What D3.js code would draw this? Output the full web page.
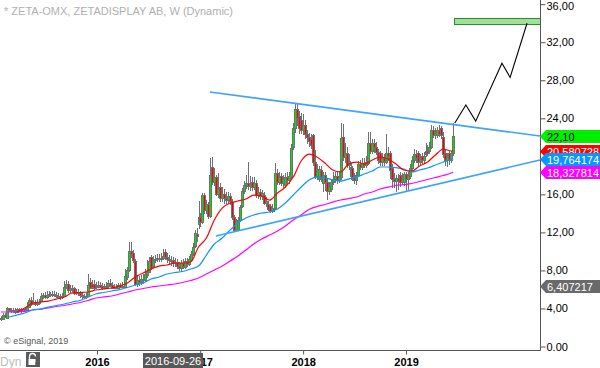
<!DOCTYPE html>
<html><head><meta charset="utf-8">
<script src="https://cdn.jsdelivr.net/npm/d3@7"></script>
<style>body{margin:0;background:#fff}svg{display:block}</style>
</head><body>
<svg id="c" width="600" height="368"></svg>
<script>
// ---------- DATA ----------
const title = "* ZETA-OMX, ZETADISPLAY AB, W (Dynamic)";
const firstWeek = "2015-01-26";
const opens = [3.0,2.9,3.3,3.0,4.0,3.8,3.8,3.7,3.6,3.9,3.8,3.7,3.9,3.8,4.2,4.9,4.5,4.7,4.5,4.6,
4.8,5.3,5.4,5.2,5.4,5.5,5.4,5.5,5.4,5.3,5.3,5.2,5.3,6.3,6.6,5.9,6.2,6.1,5.6,5.7,
5.6,5.4,5.3,5.2,5.3,6.8,6.6,6.6,6.3,6.4,6.5,6.4,6.1,6.3,6.4,6.7,6.5,6.2,6.3,6.2,
6.5,6.3,6.4,6.3,7.3,8.0,10.0,9.8,9.0,6.6,7.0,6.8,7.1,7.0,7.5,7.8,9.4,8.5,9.1,9.2,
9.3,9.2,9.3,9.9,9.4,9.2,9.1,9.1,8.8,8.9,8.5,8.3,8.8,8.4,9.0,8.7,9.1,9.7,10.6,11.8,
12.9,13.6,13.1,15.9,14.4,15.0,13.7,18.9,17.3,17.8,16.0,16.8,15.6,16.0,15.6,15.4,15.8,15.2,13.6,12.3,
12.4,13.3,14.8,16.4,17.0,17.2,16.9,17.3,16.8,17.2,15.9,16.2,15.8,15.9,15.1,15.0,14.8,14.3,14.6,14.6,
18.2,17.3,17.9,17.2,17.0,17.8,17.5,17.8,21.0,23.0,25.0,24.2,23.8,22.8,23.3,22.3,22.0,21.8,22.2,19.4,
17.9,17.6,18.6,17.2,18.0,17.3,16.4,16.6,17.3,17.6,17.9,17.5,17.8,22.0,19.9,20.4,19.1,18.9,18.8,17.8,
17.5,18.0,19.2,18.9,19.3,19.1,19.3,21.4,20.6,21.4,21.0,20.5,20.3,19.4,19.8,19.4,20.4,20.4,18.8,17.6,
17.4,17.7,18.0,17.3,17.3,18.1,17.6,17.9,18.8,19.6,20.2,20.3,19.4,20.0,19.6,20.2,20.6,20.6,21.0,22.8,
22.2,22.2,22.8,23.0,22.0,20.4,19.6,20.4,19.6,20.3];
const highs = [3.2,3.5,3.5,4.2,4.1,4.1,4.0,4.0,4.1,4.1,4.0,4.1,4.0,4.7,5.1,5.2,5.6,4.9,5.0,5.0,
5.6,5.6,5.7,5.8,5.8,5.7,5.8,5.8,5.7,5.6,5.5,5.6,6.9,7.0,6.9,6.5,6.5,6.3,6.0,6.0,
5.8,5.6,5.5,5.6,7.6,7.2,7.0,7.0,6.8,6.9,6.8,6.7,6.6,6.8,7.0,7.1,6.8,6.6,6.6,6.7,
6.7,6.8,6.7,8.2,8.4,11.0,11.0,10.2,9.2,7.5,7.4,7.5,7.6,8.2,9.1,9.4,9.6,9.5,9.6,9.7,
9.7,9.8,10.3,10.3,9.8,9.6,9.5,9.4,9.3,9.2,8.9,9.1,9.2,9.3,9.3,9.5,10.0,10.9,12.3,12.5,
15.3,14.0,16.1,16.1,15.4,15.2,19.8,19.9,18.8,18.0,18.2,17.2,16.8,16.6,16.2,16.3,16.1,15.5,13.8,13.4,
13.6,14.9,16.7,17.4,18.0,19.4,17.9,17.8,17.8,17.5,16.8,16.6,16.5,16.2,15.7,15.3,15.0,15.0,15.0,19.3,
18.7,18.3,18.2,18.0,18.2,18.3,18.4,21.3,23.5,25.6,25.5,24.8,24.6,24.5,23.8,22.8,22.5,22.4,22.4,20.7,
19.2,19.0,19.0,18.3,18.4,17.6,17.3,17.6,18.3,18.4,18.3,18.5,23.5,23.4,21.4,21.0,20.2,19.3,19.0,18.2,
18.3,19.5,19.6,19.8,19.8,20.0,22.6,22.6,21.8,21.8,21.5,20.8,20.6,20.4,20.2,22.4,21.0,20.6,19.2,18.2,
18.0,18.1,18.3,18.2,18.4,18.4,18.3,19.2,20.0,20.8,20.7,20.6,20.2,20.4,20.5,21.4,21.2,21.5,23.3,23.2,
23.0,23.1,23.3,23.2,22.6,20.8,20.3,20.6,20.6,23.5];
const lows = [2.7,2.8,3.0,2.9,3.6,3.5,3.5,3.4,3.5,3.6,3.5,3.6,3.6,3.7,4.1,4.3,4.4,4.3,4.3,4.4,
4.7,5.0,5.0,5.0,5.2,5.2,5.2,5.2,5.1,5.0,4.9,5.0,5.2,6.0,5.6,5.6,5.7,5.4,5.4,5.3,
5.1,5.0,5.0,5.0,5.2,6.0,6.0,5.9,6.0,6.1,6.1,5.9,6.0,6.1,6.2,6.3,6.0,6.0,6.0,6.0,
6.1,6.1,6.1,6.2,7.0,7.8,9.3,8.8,6.4,6.3,6.4,6.5,6.6,6.8,7.2,7.7,8.0,8.3,8.8,8.9,
8.9,8.9,9.1,9.1,8.8,8.6,8.5,8.4,8.4,8.1,7.9,7.8,8.1,8.2,8.4,8.5,8.9,9.5,10.4,11.0,
12.4,12.6,12.9,13.9,13.9,13.4,13.5,17.0,16.9,15.8,15.6,15.2,15.2,15.0,15.0,15.0,14.9,13.3,12.0,12.0,
12.1,13.1,14.6,16.0,16.6,16.5,16.4,16.4,16.5,15.6,15.5,15.4,15.4,14.9,14.7,14.2,14.0,14.0,14.1,14.4,
17.0,17.0,16.9,16.7,16.8,17.1,17.1,17.6,20.7,22.5,23.2,22.3,22.3,22.2,21.8,21.3,21.0,20.8,19.0,17.6,
17.5,17.3,17.3,16.2,16.4,15.4,15.9,16.3,17.0,17.2,17.1,17.2,17.5,19.5,19.3,18.8,18.6,17.5,17.4,17.1,
17.0,17.8,18.6,18.6,18.8,18.8,19.1,20.2,20.2,20.4,20.1,19.2,19.0,19.0,19.0,19.2,19.5,17.6,16.7,16.7,
16.2,16.5,16.8,17.0,16.9,16.2,16.5,17.6,18.5,19.3,19.3,19.0,19.0,19.2,19.3,19.9,20.0,20.2,20.8,21.9,
21.8,21.9,22.0,21.8,19.8,19.0,18.9,19.1,19.3,20.0];
const closes = [2.9,3.3,3.1,4.0,3.8,3.8,3.7,3.6,3.9,3.8,3.7,3.9,3.8,4.2,4.9,4.5,4.7,4.5,4.6,4.7,
5.3,5.4,5.2,5.4,5.5,5.4,5.5,5.4,5.3,5.3,5.2,5.3,6.3,6.6,5.9,6.2,6.1,5.6,5.7,5.6,
5.4,5.3,5.2,5.3,6.5,6.2,6.3,6.2,6.4,6.5,6.3,6.1,6.3,6.4,6.7,6.5,6.2,6.3,6.2,6.5,
6.3,6.4,6.3,7.4,8.0,10.0,9.7,9.1,6.6,7.0,6.8,7.1,7.0,7.6,7.8,9.0,8.3,9.1,9.2,9.3,
9.2,9.3,9.5,9.4,9.2,9.1,9.0,8.8,8.9,8.5,8.3,8.8,8.5,9.0,8.7,9.2,9.7,10.5,11.9,11.6,
13.6,13.1,15.9,14.4,15.0,13.7,18.0,17.3,17.8,16.0,16.6,15.6,16.0,15.6,15.4,15.8,15.3,13.6,12.3,13.2,
13.3,14.7,16.4,17.0,17.2,16.9,17.1,16.8,17.2,15.9,16.2,15.8,16.1,15.1,15.3,14.5,14.3,14.6,14.5,18.2,
17.3,17.8,17.2,17.6,17.8,17.5,17.9,20.9,23.0,25.0,24.0,23.0,22.8,23.3,22.3,22.0,21.6,21.2,19.4,17.9,
18.6,18.7,17.8,18.0,17.3,16.4,16.8,17.3,17.6,17.9,17.5,17.8,21.9,19.9,20.4,19.1,19.5,17.9,17.8,17.5,
18.0,19.2,18.9,19.3,19.1,19.4,21.4,20.6,21.4,21.0,20.5,19.6,19.4,19.8,19.5,20.4,20.0,18.6,17.6,17.4,
17.7,17.4,17.3,17.6,18.1,17.6,17.9,18.8,19.6,20.2,19.8,19.4,19.7,19.6,20.0,20.6,20.3,21.0,22.8,22.2,
22.5,22.8,22.4,22.2,20.2,19.6,19.9,19.6,20.3,22.1];

// moving averages, read every 4th week (last point = last week)
const maStep = 4;
const maRed = [null,null,3.63,4.05,4.57,4.68,4.78,4.99,5.20,5.63,5.68,5.73,5.94,6.05,6.15,6.36,6.68,7.31,7.73,8.15,8.46,8.57,8.78,8.78,8.89,10.46,11.41,13.30,14.56,15.09,15.30,15.51,15.93,15.83,15.40,16.14,16.77,17.82,19.51,20.24,19.93,19.30,18.56,18.35,19.19,19.40,19.19,19.61,19.93,19.72,19.19,18.56,18.46,18.98,19.40,20.14,20.77,20.56,20.58];
const maBlue = [null,3.10,3.31,3.52,3.84,3.94,4.15,4.31,4.47,4.68,4.84,5.20,5.52,5.68,5.84,5.99,6.20,6.47,6.68,7.10,7.31,7.62,7.78,7.89,8.15,8.46,9.62,10.78,11.41,12.25,12.99,13.51,13.83,14.04,14.15,14.46,15.09,15.93,16.77,17.51,17.82,17.77,17.51,17.40,17.61,17.82,18.14,18.45,18.88,18.88,18.82,18.66,18.35,18.56,18.77,19.09,19.40,19.66,19.76];
const maMagenta = [3.63,3.63,3.63,3.73,3.84,3.94,4.05,4.21,4.31,4.47,4.63,4.84,5.10,5.21,5.31,5.52,5.73,5.94,6.10,6.26,6.36,6.47,6.57,6.73,6.94,7.20,7.62,8.04,8.46,8.99,9.52,10.15,10.78,11.30,11.72,12.14,12.67,13.30,13.83,14.41,14.72,14.93,15.19,15.41,15.56,15.72,16.04,16.25,16.56,16.77,16.93,17.03,17.14,17.35,17.56,17.77,17.98,18.24,18.33];

const trendUpper = [["2017-02-04",26.77],["2020-04-20",22.13]];
const trendLower = [["2017-02-26",11.62],["2020-04-20",19.61]];
const projection = [["2019-06-23",23.5],["2019-08-01",25.4],["2019-09-05",23.7],["2019-12-07",29.8],["2020-01-05",28.3],["2020-03-05",34.0]];
const targetZone = {from:"2019-06-20", to:"2020-04-20", low:33.9, high:34.55};

const yTicks = [0,4,8,12,16,24,28,32,36];
const xYears = ["2016-01-01","2017-01-01","2018-01-01","2019-01-01"];
const priceLabels = [
  {v:22.10, text:"22,10", fill:"#00ee00", color:"#000"},
  {v:20.580728, text:"20,580728", fill:"#ff0000", color:"#fff"},
  {v:19.764174, text:"19,764174", fill:"#0a96ff", color:"#fff"},
  {v:18.327814, text:"18,327814", fill:"#ff00ff", color:"#fff"},
  {v:6.407217, text:"6,407217", fill:"#6a6a6a", color:"#fff"}
];
const cursorDate = "2016-09-26";

// ---------- CHART ----------
const svg = d3.select("#c");
const pt = d3.timeParse("%Y-%m-%d");
const W = 540, H = 350;
const x = d3.scaleTime().domain([pt("2015-01-22"), pt("2020-04-20")]).range([0, W]);
const y = d3.scaleLinear().domain([0, 36]).range([346.5, 4.2]);
const start = pt(firstWeek);
const weekDate = i => d3.timeDay.offset(start, 7 * i);
const font = "Arial, 'Liberation Sans', sans-serif";

// title
svg.append("text").attr("x", 4).attr("y", 15).attr("font-family", font).attr("font-size", 11)
  .attr("fill", "#b0b0b0").text(title);

// target zone
svg.append("rect")
  .attr("x", Math.round(x(pt(targetZone.from))) + 0.5)
  .attr("y", Math.round(y(targetZone.high)) + 0.5)
  .attr("width", Math.round(x(pt(targetZone.to))) - Math.round(x(pt(targetZone.from))))
  .attr("height", Math.round(y(targetZone.low)) - Math.round(y(targetZone.high)))
  .attr("fill", "#a6dca0").attr("stroke", "#1a9a1a").attr("stroke-width", 1);

// candles
const gray = "#707070";
const cg = svg.append("g");
closes.forEach((c, i) => {
  const h = highs[i], l = lows[i];
  const cx = Math.round(x(weekDate(i)));
  cg.append("line").attr("x1", cx + 0.5).attr("x2", cx + 0.5)
    .attr("y1", Math.round(y(h))).attr("y2", Math.round(y(l)))
    .attr("stroke", gray).attr("stroke-width", 1);
});
closes.forEach((c, i) => {
  const o = opens[i];
  const cx = Math.round(x(weekDate(i)));
  const top = Math.round(y(Math.max(o, c))), bot = Math.round(y(Math.min(o, c)));
  cg.append("rect").attr("x", cx - 0.5).attr("y", top + 0.5)
    .attr("width", 2).attr("height", Math.max(bot - top, 1))
    .attr("fill", c >= o ? "#00e400" : "#ff0000")
    .attr("stroke", gray).attr("stroke-width", 1);
});

// moving averages
function maPoints(arr) {
  return arr.map((v, k) => ({d: weekDate(Math.min(k * maStep, closes.length - 1)), v}));
}
const maLine = d3.line().defined(p => p.v != null).x(p => x(p.d)).y(p => y(p.v)).curve(d3.curveMonotoneX);
[[maMagenta, "#ff00ff"], [maBlue, "#0a96ff"], [maRed, "#ff0000"]].forEach(([arr, col]) => {
  svg.append("path").attr("d", maLine(maPoints(arr))).attr("fill", "none")
    .attr("stroke", col).attr("stroke-width", 1.2);
});

// trend lines
const tl = d3.line().x(p => x(pt(p[0]))).y(p => y(p[1]));
[trendUpper, trendLower].forEach(t => {
  svg.append("path").attr("d", tl(t)).attr("fill", "none").attr("stroke", "#3ea2ff").attr("stroke-width", 1.6);
});
// projection
svg.append("path").attr("d", tl(projection)).attr("fill", "none").attr("stroke", "#000").attr("stroke-width", 1.1);

// frame lines
svg.append("line").attr("x1", 0).attr("x2", W + 0.5).attr("y1", H + 0.5).attr("y2", H + 0.5).attr("stroke", "#555");
svg.append("line").attr("x1", W + 0.5).attr("x2", W + 0.5).attr("y1", 0).attr("y2", H + 0.5).attr("stroke", "#555");

// y axis
const yAxis = d3.axisRight(y).tickValues(yTicks).tickSize(5).tickPadding(1)
  .tickFormat(d => d === 0 ? "0.00" : d3.format(".2f")(d).replace(".", ","));
const ya = svg.append("g").attr("transform", `translate(${W + 0.5},0)`).call(yAxis);
ya.select(".domain").remove();
ya.selectAll("line").attr("stroke", "#555");
ya.selectAll("text").attr("font-family", font).attr("font-size", 11).attr("fill", "#000")
  .attr("dy", d => d === 36 ? "0.5em" : "0.32em");

// x axis
const xAxis = d3.axisBottom(x).tickValues(xYears.map(pt)).tickSize(4).tickPadding(4).tickFormat(d3.timeFormat("%Y"));
const xa = svg.append("g").attr("transform", `translate(0,${H + 0.5})`).call(xAxis);
xa.select(".domain").remove();
xa.selectAll("line").attr("stroke", "#555");
xa.selectAll("text").attr("font-family", font).attr("font-size", 11).attr("font-weight", "bold").attr("fill", "#000");

// cursor date box (centred on the cursor date)
const cxd = Math.round(x(pt(cursorDate)));
svg.append("rect").attr("x", cxd - 30).attr("y", 353).attr("width", 60).attr("height", 15).attr("fill", "#585858");
svg.append("text").attr("x", cxd).attr("y", 365).attr("text-anchor", "middle")
  .attr("font-family", font).attr("font-size", 11).attr("fill", "#fff").text(cursorDate);

// price labels
priceLabels.forEach(p => {
  const yc = Math.round(y(p.v));
  svg.append("path").attr("d", `M${W},${yc + 0.5}L${W + 6},${yc - 6}H600V${yc + 7}H${W + 6}Z`).attr("fill", p.fill);
  svg.append("text").attr("x", W + 7).attr("y", yc + 4.5).attr("font-family", font).attr("font-size", 11)
    .attr("fill", p.color).text(p.text);
});

// copyright, Dyn, lock
svg.append("text").attr("x", 4).attr("y", 344).attr("font-family", font).attr("font-size", 9).attr("fill", "#555").text("\u00a9 eSignal, 2019");
svg.append("text").attr("x", 0).attr("y", 366).attr("font-family", font).attr("font-size", 12).attr("fill", "#bdbdbd").text("Dyn");
svg.append("rect").attr("x", 26).attr("y", 352).attr("width", 14).attr("height", 15).attr("fill", "#5a5a5a");
svg.append("path").attr("d", "M29.5,359V356.5a3,3 0 0 1 6,0").attr("fill", "none").attr("stroke", "#fff").attr("stroke-width", 1.3);
svg.append("rect").attr("x", 28.5).attr("y", 359).attr("width", 7).attr("height", 6).attr("fill", "#fff");
svg.append("text").attr("x", 35).attr("y", 365).attr("font-family", font).attr("font-size", 6).attr("font-weight", "bold").attr("fill", "#5a5a5a").text("c");
</script>
</body></html>
